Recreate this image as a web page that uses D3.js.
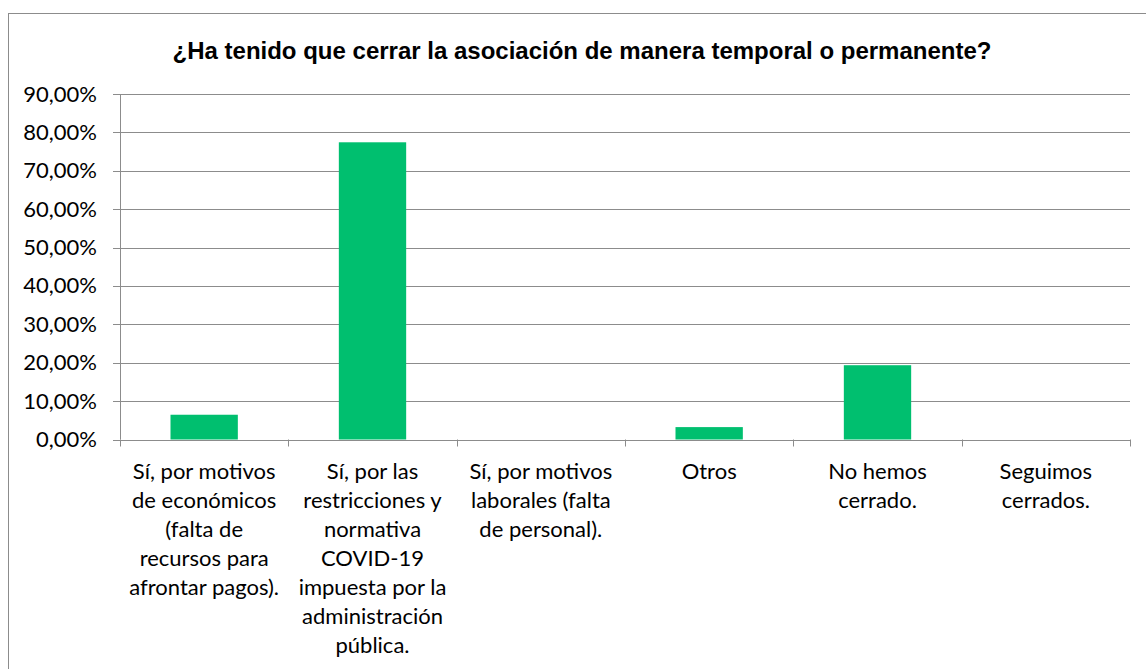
<!DOCTYPE html>
<html>
<head>
  <meta charset="utf-8">
  <script src="https://d3js.org/d3.v7.min.js"></script>
  <style>
    body { margin: 0; background: #fff; }
    text { font-family: 'Lato', 'Open Sans', sans-serif; fill: #000; }
    .title { font-family: 'Liberation Sans', Arial, sans-serif; font-weight: bold; font-size: 24px; }
    .axis text { font-size: 22px; }
    .axis .domain { display: none; }
    .grid line { stroke: #8c8c8c; stroke-width: 1px; }
    .xlabel { font-size: 22px; }
  </style>
</head>
<body>
  <div id="chart"></div>
  <script>
    // categories (pre-wrapped like the original) and values in percent
    var categories = ["eco", "covid", "lab", "otros", "no", "seg"];
    var labelLines = [
      ["Sí, por motivos", "de económicos", "(falta de", "recursos para", "afrontar pagos)."],
      ["Sí, por las", "restricciones y", "normativa", "COVID-19", "impuesta por la", "administración", "pública."],
      ["Sí, por motivos", "laborales (falta", "de personal)."],
      ["Otros"],
      ["No hemos", "cerrado."],
      ["Seguimos", "cerrados."]
    ];
    var values = [6.45, 77.42, 0, 3.23, 19.35, 0];
    var yTicks = [0, 10, 20, 30, 40, 50, 60, 70, 80, 90];
    var title = "¿Ha tenido que cerrar la asociación de manera temporal o permanente?";

    var W = 1146, H = 669;
    var margin = {top: 94, right: 16, bottom: 230, left: 120};

    var svg = d3.select("#chart").append("svg")
      .attr("width", W)
      .attr("height", H);

    // outer chart border (right and bottom run off the picture)
    svg.append("rect")
      .attr("x", 8.5).attr("y", 13.5)
      .attr("width", W + 20).attr("height", H + 20)
      .attr("fill", "none")
      .attr("stroke", "#8c8c8c");

    svg.append("text")
      .attr("class", "title")
      .attr("x", 582).attr("y", 59)
      .attr("text-anchor", "middle")
      .text(title);

    var x = d3.scaleBand()
      .domain(categories)
      .range([margin.left, W - margin.right])
      .paddingInner(0.6)
      .paddingOuter(0.3);

    var y = d3.scaleLinear()
      .domain([0, 90])
      .range([439.5, margin.top]);

    // horizontal gridlines
    svg.append("g").attr("class", "grid")
      .selectAll("line")
      .data(yTicks)
      .join("line")
      .attr("x1", margin.left - 7)
      .attr("x2", W - margin.right)
      .attr("y1", d => Math.round(y(d)) + 0.5)
      .attr("y2", d => Math.round(y(d)) + 0.5);

    // vertical axis line
    svg.append("g").attr("class", "grid")
      .append("line")
      .attr("x1", margin.left + 0.5).attr("x2", margin.left + 0.5)
      .attr("y1", y(90)).attr("y2", y(0));

    // category boundary ticks
    var step = x.step();
    var bounds = d3.range(categories.length + 1).map(i => margin.left + i * step);
    svg.append("g").attr("class", "grid")
      .selectAll("line")
      .data(bounds)
      .join("line")
      .attr("x1", d => Math.round(d) + 0.5)
      .attr("x2", d => Math.round(d) + 0.5)
      .attr("y1", y(0))
      .attr("y2", y(0) + 7);

    svg.append("g")
      .attr("class", "axis")
      .attr("transform", "translate(" + (margin.left - 23) + ",0)")
      .call(d3.axisLeft(y)
        .tickValues(yTicks)
        .tickSize(0)
        .tickPadding(0)
        .tickFormat(d => d3.format(".2f")(d).replace(".", ",") + "%"));

    svg.selectAll("rect.bar")
      .data(values)
      .join("rect")
      .attr("class", "bar")
      .attr("x", (d, i) => x(categories[i]))
      .attr("width", x.bandwidth())
      .attr("y", d => y(d))
      .attr("height", d => y(0) - y(d))
      .attr("fill", "#00bf6f");

    // category labels, one tspan per line
    var lab = svg.append("g")
      .selectAll("text")
      .data(labelLines)
      .join("text")
      .attr("class", "xlabel")
      .attr("text-anchor", "middle")
      .attr("transform", (d, i) => "translate(" + (x(categories[i]) + x.bandwidth() / 2) + ",479)");

    lab.selectAll("tspan")
      .data(d => d)
      .join("tspan")
      .attr("x", 0)
      .attr("y", (d, i) => i * 29)
      .text(d => d);
  </script>
</body>
</html>
